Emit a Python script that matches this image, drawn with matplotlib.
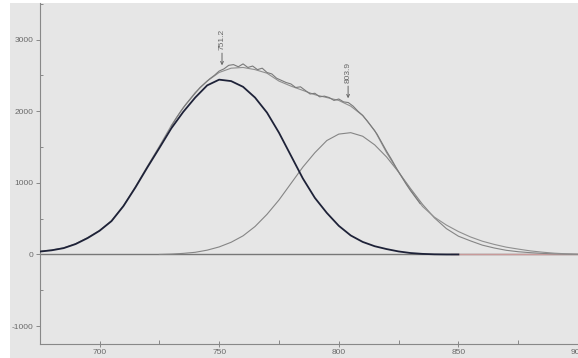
import matplotlib
matplotlib.use("Agg")
import matplotlib.pyplot as plt
from matplotlib.patches import Rectangle
from matplotlib.ticker import MultipleLocator

plt.rcParams['axes.unicode_minus'] = False
plt.rcParams['font.family'] = ['Liberation Sans', 'DejaVu Sans']

# ---- data ----
fit_x = [675, 680, 685, 690, 695, 700, 705, 710, 715, 720, 725, 730, 735, 740, 745, 750,
         755, 760, 765, 770, 775, 780, 785, 790, 795, 800, 805, 810, 815, 820, 825, 830,
         835, 840, 845, 850, 855, 860, 865, 870, 875, 880, 885, 890, 895, 900, 905]
fit_y = [45, 62, 92, 150, 235, 335, 470, 680, 945, 1230, 1510, 1800, 2050, 2260, 2420, 2540,
         2600, 2610, 2580, 2530, 2420, 2350, 2290, 2230, 2190, 2150, 2070, 1940, 1730, 1420, 1150, 900,
         670, 520, 410, 320, 245, 185, 140, 102, 75, 50, 32, 18, 9, 3, 1]

data_x = [730, 732, 734, 736, 738, 740, 742, 744, 746, 748, 750, 752, 754, 756, 758, 760,
          762, 764, 766, 768, 770, 772, 774, 776, 778, 780, 782, 784, 786, 788, 790, 792,
          794, 796, 798, 800, 802, 804, 806, 808, 810, 812, 814, 816, 818, 820, 822, 824,
          826, 828, 830, 832, 834]
data_y = [1790, 1900, 2000, 2090, 2170, 2250, 2330, 2390, 2450, 2500, 2560, 2590, 2640, 2650, 2620, 2660,
          2610, 2630, 2580, 2600, 2540, 2520, 2460, 2430, 2400, 2380, 2330, 2340, 2290, 2240, 2250, 2200,
          2210, 2190, 2150, 2170, 2130, 2120, 2070, 2000, 1940, 1860, 1770, 1680, 1560, 1440, 1330, 1210,
          1100, 990, 890, 800, 710]

peak1_x = [675, 680, 685, 690, 695, 700, 705, 710, 715, 720, 725, 730, 735, 740, 745, 750,
           755, 760, 765, 770, 775, 780, 785, 790, 795, 800, 805, 810, 815, 820, 825, 830,
           835, 840, 845, 850]
peak1_y = [40, 58, 88, 145, 228, 330, 465, 675, 935, 1215, 1485, 1760, 1990, 2190, 2360, 2440,
           2420, 2340, 2190, 1980, 1700, 1380, 1060, 790, 580, 400, 265, 175, 115, 75, 42, 20,
           8, 2, 0, 0]

peak2_x = [725, 730, 735, 740, 745, 750, 755, 760, 765, 770, 775, 780, 785, 790, 795, 800,
           805, 810, 815, 820, 825, 830, 835, 840, 845, 850, 855, 860, 865, 870, 875, 880,
           885, 890, 895, 900, 905]
peak2_y = [0, 5, 15, 30, 60, 105, 170, 260, 390, 560, 760, 990, 1220, 1420, 1590, 1680,
           1700, 1650, 1530, 1360, 1150, 920, 700, 510, 360, 255, 190, 130, 90, 58, 38, 25,
           15, 8, 4, 1, 0]

peak_labels = ["751.2", "803.9"]
peak_pos = [751.2, 803.9]
peak_tip = [2640, 2180]

x_major = [700, 750, 800, 850, 900]
y_major = [-1000, 0, 1000, 2000, 3000]

# ---- figure ----
W, H = 578, 358
fig = plt.figure(figsize=(W / 100, H / 100), dpi=100, facecolor='white')
bg = '#e6e6e6'
fig.patches.append(Rectangle((10 / W, 0), 1, (H - 3) / H, transform=fig.transFigure,
                             facecolor=bg, edgecolor='none', zorder=-10))

ax = fig.add_axes([40 / W, 14 / H, 550 / W, 341 / H])
ax.set_facecolor(bg)
ax.set_xlim(675.13, 905.0)
ax.set_ylim(-1250, 3510)

# zero line and red tail
ax.axhline(0, color='#777777', lw=1.0, zorder=1)
ax.plot([847, 905], [0, 0], color='#c89a9a', lw=1.0, zorder=1.5)

ax.plot(peak2_x, peak2_y, color='#858585', lw=0.8, zorder=2)
ax.plot(fit_x, fit_y, color='#8f8f8f', lw=0.8, zorder=2)
ax.plot(data_x, data_y, color='#7a7a7a', lw=0.8, zorder=3)
ax.plot(peak1_x, peak1_y, color='#1e2238', lw=1.3, zorder=4)

for lab, xp, yt in zip(peak_labels, peak_pos, peak_tip):
    ax.annotate('', xy=(xp, yt), xytext=(xp, yt + 170),
                arrowprops=dict(arrowstyle='->', color='#666666', lw=0.7,
                                shrinkA=0, shrinkB=0, mutation_scale=5))
    ax.text(xp, yt + 210, lab, rotation=90, ha='center', va='bottom',
            fontsize=6, color='#666666')

for s in ['top', 'right']:
    ax.spines[s].set_visible(False)
for s in ['left', 'bottom']:
    ax.spines[s].set_color('#888888')
    ax.spines[s].set_linewidth(0.8)

ax.set_xticks(x_major)
ax.set_yticks(y_major)
ax.xaxis.set_minor_locator(MultipleLocator(25))
ax.yaxis.set_minor_locator(MultipleLocator(500))
ax.tick_params(axis='both', which='major', labelsize=6, labelcolor='#6a6a6a',
               color='#888888', length=3, width=0.7, pad=1.5)
ax.tick_params(axis='x', which='major', direction='inout', length=4)
ax.tick_params(axis='x', which='minor', direction='in', length=3, width=0.7, color='#888888')
ax.tick_params(axis='y', which='minor', direction='in', length=2, width=0.7, color='#888888')

fig.savefig('out.png', dpi=100, facecolor='white')
